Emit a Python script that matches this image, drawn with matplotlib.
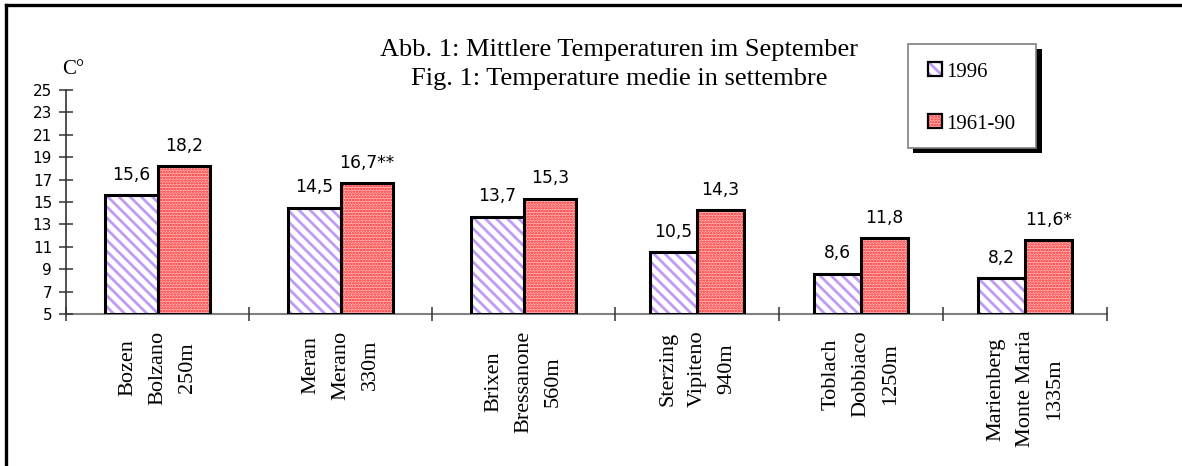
import matplotlib
matplotlib.use("Agg")
import matplotlib.pyplot as plt
from matplotlib.patches import Rectangle
from matplotlib.lines import Line2D

# ---------------- data ----------------
stations = ["Bozen\nBolzano\n250m", "Meran\nMerano\n330m", "Brixen\nBressanone\n560m",
            "Sterzing\nVipiteno\n940m", "Toblach\nDobbiaco\n1250m",
            "Marienberg\nMonte Maria\n1335m"]
series_names = ["1996", "1961-90"]
temp_1996 = [15.6, 14.5, 13.7, 10.5, 8.6, 8.2]
temp_1961_90 = [18.2, 16.7, 15.3, 14.3, 11.8, 11.6]
notes_1961_90 = ["", "**", "", "", "", "*"]
yticks = [5, 7, 9, 11, 13, 15, 17, 19, 21, 23, 25]
title_de = "Abb. 1: Mittlere Temperaturen im September"
title_it = "Fig. 1: Temperature medie in settembre"
unit_label = "C°"

# ---------------- layout / style ----------------
W, H = 1182, 466
group_widths = [1.0, 1.0, 1.0, 0.896, 0.896, 0.896]   # category slot widths
bar_start, bar_frac = 0.213, 0.287
SERIF = "Liberation Serif"
SANS = "DejaVu Sans"
purple = "#c09af7"
red_dot = "#ff1f1f"
red_bg = "#ffbcbc"
plt.rcParams["hatch.linewidth"] = 2.0

fig = plt.figure(figsize=(W / 100, H / 100), dpi=100)
fig.patch.set_facecolor("white")

def fx(px):
    return px / W

def fy(py):
    return 1 - py / H

ax = fig.add_axes([fx(66), fy(314), fx(1107) - fx(66), fy(90) - fy(314)])
ax.set_ylim(yticks[0], yticks[-1])

edges = [0.0]
for w in group_widths:
    edges.append(edges[-1] + w)
ax.set_xlim(edges[0], edges[-1])

HATCH_1 = "\\\\\\"
HATCH_2 = "......"

def set_hlw(patches, lw):
    for p in patches:
        if hasattr(p, "set_hatch_linewidth"):
            p.set_hatch_linewidth(lw)

centers = []
for i, w in enumerate(group_widths):
    left = edges[i]
    centers.append(left + w / 2)
    x1 = left + bar_start * w
    x2 = left + 0.5 * w
    bw = bar_frac * w
    b1 = ax.bar(x1, temp_1996[i] - yticks[0], bottom=yticks[0], width=bw, align="edge",
                facecolor="white", edgecolor=purple, linewidth=0, hatch=HATCH_1, zorder=2)
    b2 = ax.bar(x2, temp_1961_90[i] - yticks[0], bottom=yticks[0], width=bw, align="edge",
                facecolor=red_bg, edgecolor=red_dot, linewidth=0, hatch=HATCH_2, zorder=2)
    set_hlw(b1, 2.0)
    set_hlw(b2, 1.2)
    ax.bar(x1, temp_1996[i] - yticks[0], bottom=yticks[0], width=bw, align="edge",
           fill=False, edgecolor="black", linewidth=2.2, zorder=3)
    ax.bar(x2, temp_1961_90[i] - yticks[0], bottom=yticks[0], width=bw, align="edge",
           fill=False, edgecolor="black", linewidth=2.2, zorder=3)
    ax.annotate(f"{temp_1996[i]:.1f}".replace(".", ","), (x1 + bw / 2, temp_1996[i]),
                xytext=(0, 11), textcoords="offset points", ha="center", va="baseline",
                fontsize=12.3, family=SANS, zorder=4)
    ax.annotate(f"{temp_1961_90[i]:.1f}".replace(".", ",") + notes_1961_90[i],
                (x2 + bw / 2, temp_1961_90[i]),
                xytext=(0, 11), textcoords="offset points", ha="center", va="baseline",
                fontsize=12.3, family=SANS, zorder=4)

# axes styling
for s in ["top", "right"]:
    ax.spines[s].set_visible(False)
ax.spines["left"].set_color("#333333")
ax.spines["left"].set_linewidth(1.2)
ax.spines["bottom"].set_color("#808080")
ax.spines["bottom"].set_linewidth(1.5)
ax.spines["bottom"].set_zorder(1)

ax.set_yticks(yticks)
ax.set_yticklabels([str(v) for v in yticks], family=SANS, fontsize=11)
ax.tick_params(axis="y", direction="inout", length=10, width=1.1, color="#333333", pad=5)

ax.set_xticks(edges)
ax.set_xticklabels([])
ax.tick_params(axis="x", which="major", direction="inout", length=9.5, width=1.1,
               color="#333333")
ax.set_xticks(centers, minor=True)
ax.set_xticklabels(stations, minor=True, rotation=90, family=SERIF, fontsize=16,
                   ha="center", va="top", multialignment="center", linespacing=1.75)
ax.tick_params(axis="x", which="minor", length=0, pad=12)

# titles and unit
fig.text(fx(619), fy(56), title_de, ha="center", va="baseline", family=SERIF, fontsize=19)
fig.text(fx(619), fy(85), title_it, ha="center", va="baseline", family=SERIF, fontsize=19)
fig.text(fx(62), fy(74), unit_label, ha="left", va="baseline", family=SERIF, fontsize=15)

# legend (manual, with hard shadow)
def frect(x0, y0, x1, y1, **kw):
    r = Rectangle((fx(x0), fy(y1)), fx(x1) - fx(x0), fy(y0) - fy(y1),
                  transform=fig.transFigure, **kw)
    fig.add_artist(r)
    return r

frect(913, 49, 1042, 153, facecolor="black", edgecolor="none", zorder=5)
frect(908, 44, 1036, 148, facecolor="white", edgecolor="#808080", linewidth=1.2, zorder=6)
lp1 = frect(928, 62, 942, 76, facecolor="white", edgecolor=purple, linewidth=0,
            hatch=HATCH_1, zorder=7)
frect(928, 62, 942, 76, fill=False, edgecolor="black", linewidth=1.6, zorder=8)
lp2 = frect(928, 114, 942, 128, facecolor=red_bg, edgecolor=red_dot, linewidth=0,
            hatch=HATCH_2, zorder=7)
frect(928, 114, 942, 128, fill=False, edgecolor="black", linewidth=1.6, zorder=8)
set_hlw([lp1], 2.0)
set_hlw([lp2], 1.2)
fig.text(fx(946), fy(77), series_names[0], ha="left", va="baseline", family=SERIF,
         fontsize=15, zorder=9)
fig.text(fx(946), fy(129), series_names[1], ha="left", va="baseline", family=SERIF,
         fontsize=15, zorder=9)

# outer frame (left and top edges)
fig.add_artist(Line2D([fx(5.5), fx(5.5)], [0, fy(4.5)], transform=fig.transFigure,
                      color="black", linewidth=2.4, solid_capstyle="projecting"))
fig.add_artist(Line2D([fx(5.5), 1], [fy(4.5), fy(4.5)], transform=fig.transFigure,
                      color="black", linewidth=2.4, solid_capstyle="projecting"))

fig.savefig("out.png", dpi=100)
